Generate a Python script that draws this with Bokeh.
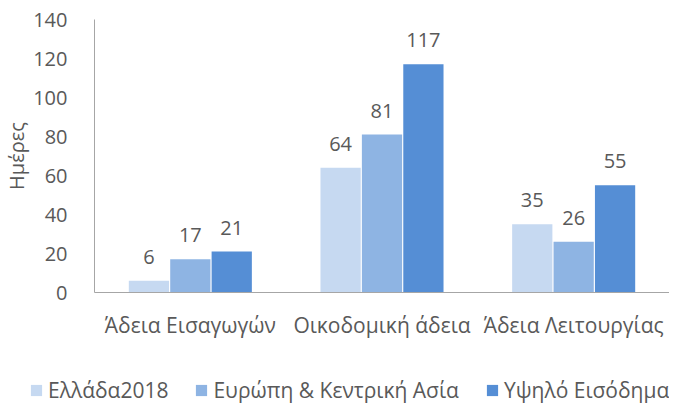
from bokeh.plotting import figure
from bokeh.models import ColumnDataSource, FactorRange, Legend, LegendItem, Range1d, FixedTicker
from bokeh.transform import dodge
from bokeh.core.properties import value
from bokeh.embed import file_html
from bokeh.resources import INLINE

categories = ["Άδεια Εισαγωγών", "Οικοδομική άδεια", "Άδεια Λειτουργίας"]
series_names = ["Ελλάδα2018", "Ευρώπη & Κεντρική Ασία", "Υψηλό Εισόδημα"]
greece = [6, 64, 35]
europe = [17, 81, 26]
high_income = [21, 117, 55]
y_ticks = [0, 20, 40, 60, 80, 100, 120, 140]

colors = ["#C6D9F1", "#8EB4E3", "#558ED5"]
FONT = "Open Sans"
FS = "20px"
FS_L = "21px"
TXT = "#595959"

src = ColumnDataSource(dict(cat=categories, s0=greece, s1=europe, s2=high_income,
                            l0=[str(v) for v in greece], l1=[str(v) for v in europe],
                            l2=[str(v) for v in high_income]))

p = figure(x_range=FactorRange(*categories, range_padding=0), y_range=Range1d(0, 140),
           width=669, height=345, output_backend="svg", toolbar_location=None,
           min_border_left=91, min_border_right=0, min_border_top=19, min_border_bottom=53)
p.outline_line_color = None
p.xgrid.grid_line_color = None
p.ygrid.grid_line_color = None

offsets = [-0.216, 0.0, 0.216]
for i, off in enumerate(offsets):
    p.vbar(x=dodge("cat", off, range=p.x_range), top="s%d" % i, width=0.21,
           source=src, fill_color=colors[i], line_color=None)
    p.text(x=dodge("cat", off, range=p.x_range), y="s%d" % i, text="l%d" % i, source=src,
           text_align="center", text_baseline="bottom", y_offset=-17,
           text_font=value(FONT), text_font_size=FS, text_color=TXT)

p.yaxis.ticker = FixedTicker(ticks=y_ticks)
p.yaxis.axis_label = "Ημέρες"
p.yaxis.axis_label_text_font = FONT
p.yaxis.axis_label_text_font_style = "normal"
p.yaxis.axis_label_text_font_size = FS
p.yaxis.axis_label_text_color = TXT
p.yaxis.axis_label_standoff = 0
for ax in (p.xaxis[0], p.yaxis[0]):
    ax.major_label_text_font = FONT
    ax.major_label_text_font_size = FS
    ax.major_label_text_color = TXT
    ax.major_tick_line_color = None
    ax.minor_tick_line_color = None
    ax.axis_line_color = "#A6A6A6"
    ax.axis_line_width = 1
p.xaxis.major_label_text_font_size = FS_L
p.yaxis.major_label_standoff = 21
p.xaxis.major_label_standoff = 12

# legend strip below the chart, spanning the full width
lg = figure(width=669, height=66, x_range=(0, 1), y_range=(0, 1), output_backend="svg",
            toolbar_location=None, x_axis_location=None, y_axis_location=None,
            min_border=0, min_border_left=0, min_border_right=0,
            min_border_top=0, min_border_bottom=0)
lg.outline_line_color = None
lg.xgrid.grid_line_color = None
lg.ygrid.grid_line_color = None
dummies = [lg.vbar(x=[5], top=[0], width=0.1, fill_color=colors[i], line_color=None)
           for i in range(3)]
legend = Legend(items=[LegendItem(label=series_names[i], renderers=[dummies[i]]) for i in range(3)],
                orientation="horizontal", location=(29, 7),
                label_text_font=FONT, label_text_font_size=FS_L, label_text_color=TXT,
                glyph_width=14, glyph_height=14, spacing=26, padding=0, margin=0,
                label_standoff=5, border_line_color=None, background_fill_alpha=0)
lg.add_layout(legend, "center")

open("out.html", "w").write(file_html([p, lg], INLINE))
